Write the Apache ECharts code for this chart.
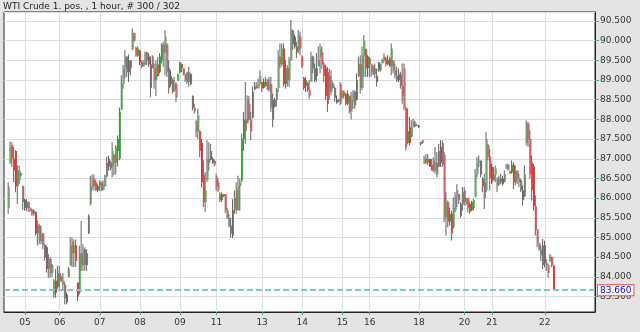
<!DOCTYPE html>
<html><head><meta charset="utf-8">
<script src="https://cdn.jsdelivr.net/npm/echarts@6/dist/echarts.min.js"></script>
<style>html,body{margin:0;padding:0;background:#e4e4e4}#c{width:640px;height:332px}</style>
</head><body><div id="c"></div>
<script>
const titleText = 'WTI Crude 1. pos. , 1 hour, # 300 / 302';
const totalSlots = 324;
const firstSlot = 2;
const dayLabels = ['05','06','07','08','09','11','13','14','15','16','18','20','21','22'];
const daySlots  = [11,30,52,74,96,116,141,163,185,200,227,252,267,296];
const lastPrice = 83.66;
// [open, close, low, high]
const candlesA = [
[85.75,86.3,85.6,86.4],[86.9,87.3,86.87,87.44],[87.35,87.0,86.8,87.42],[87.0,86.7,86.4,87.3],[87.2,86.3,86.15,87.22],
[86.3,86.7,85.85,86.83],[86.45,86.7,86.35,86.83],[86.58,86.62,86.55,86.65],[86.3,85.9,85.7,86.32],[85.95,85.75,85.68,85.98],
[85.75,85.9,85.68,85.98],[85.9,85.75,85.65,85.92],[85.75,85.68,85.65,85.77],[85.7,85.6,85.55,85.72],[85.6,85.68,85.55,85.72],
[85.64,85.1,85.05,85.66],[85.1,85.3,84.79,85.43],[85.3,84.9,84.83,85.35],[84.9,85.1,84.83,85.3],[85.1,84.8,84.7,85.12],
[84.8,84.5,84.41,84.83],[84.75,84.2,84.11,84.79],[84.2,84.45,83.98,84.58],[84.45,84.1,83.98,84.5],[84.1,84.3,84.0,84.33],
[83.55,83.9,83.47,83.94],[83.9,83.6,83.47,84.2],[83.75,84.1,83.7,84.28],[84.1,83.9,83.7,84.28],[84.0,83.9,83.86,84.05],
[83.9,83.8,83.65,84.1],[83.8,83.45,83.3,83.86],[83.55,83.35,83.3,83.6],[84.0,84.2,83.98,84.25],[84.3,84.8,84.28,85.0],
[84.9,84.6,84.25,85.0],[84.6,84.8,84.25,84.95],[84.8,84.4,84.25,84.95],[83.85,83.5,83.39,83.86],[83.6,84.6,83.55,84.79],
[84.6,84.3,84.15,85.42],[84.3,84.7,84.15,84.83],[84.7,84.3,84.15,84.75],[84.3,84.6,84.15,84.7],[85.1,85.55,85.09,85.59],
[85.85,86.3,85.81,86.57],[86.3,86.5,86.2,86.6],[86.5,86.3,86.2,86.6],[86.4,86.2,86.18,86.45],[86.2,86.3,86.15,86.35],
[86.3,86.4,86.18,86.45],[86.4,86.2,86.18,86.42],[86.2,86.35,86.2,86.45],[86.3,86.55,86.3,86.6],[86.55,86.9,86.53,87.04],
[87.0,86.8,86.7,87.08],[86.9,86.75,86.7,86.95],[86.8,87.2,86.53,87.42],[87.1,86.9,86.58,87.12],[86.9,87.3,86.6,87.35],
[87.2,87.5,86.8,87.59],[87.0,88.2,86.96,88.3],[88.25,88.9,88.23,89.12],[88.9,89.3,88.78,89.38],[89.3,89.6,89.04,89.76],
[89.6,89.2,89.08,89.6],[89.2,89.5,88.95,89.65],[89.5,89.3,89.12,89.5],[89.78,90.2,89.76,90.31],[90.2,90.0,89.97,90.2],
[89.82,89.62,89.59,89.85],[89.62,89.8,89.59,89.85],[89.75,89.45,89.38,89.76],[89.45,89.35,89.3,89.5],[89.35,89.45,89.33,89.5],
[89.4,89.7,89.38,89.72],[89.7,89.5,89.38,89.72],[89.6,89.4,89.33,89.68],[89.4,88.8,88.57,89.6]
];
const candlesB = [
[89.6,89.3,89.3,89.63],[89.3,89.0,88.78,89.42],[89.0,89.4,88.59,89.5],[89.4,89.1,89.08,89.59],[89.2,89.6,89.17,89.68],
[89.5,89.9,89.42,89.93],[89.9,89.7,89.34,89.97],[89.7,90.1,89.12,90.27],[89.9,89.2,89.08,89.93],[89.3,88.8,88.66,89.5],
[88.9,89.1,88.83,89.25],[89.0,88.7,88.66,89.04],[88.75,88.9,88.7,89.08],[88.9,88.55,88.44,88.95],[88.98,89.15,88.98,89.17],
[89.2,89.45,89.17,89.46],[89.4,89.3,89.2,89.42],[89.3,89.15,89.12,89.3],[89.15,89.0,88.95,89.17],[89.2,88.95,88.9,89.21],
[88.95,89.2,88.83,89.34],[89.15,88.9,88.87,89.17],[88.6,88.3,88.23,88.61],[88.3,88.2,88.15,88.4],[87.95,87.7,87.55,87.98],
[87.7,88.1,87.5,88.28],[87.7,87.2,87.04,87.72],[87.4,86.4,86.27,87.5],[86.6,85.9,85.77,86.96],[85.9,86.2,85.65,86.66],
[86.45,87.0,86.41,87.47],[87.0,86.9,86.7,87.42],[87.2,86.97,86.96,87.38],[87.0,86.9,86.87,87.04],[86.95,86.85,86.8,86.98],
[86.55,86.3,86.19,86.62],[86.4,86.2,86.15,86.5],[86.1,85.95,85.9,86.15],[85.95,86.1,85.9,86.15],[86.1,86.05,86.03,86.1],
[86.1,85.7,85.62,86.1],[85.7,85.5,85.47,85.75],[85.5,85.3,85.26,85.6],[85.3,85.1,85.0,85.5],[85.05,85.7,84.98,85.97],
[85.7,86.0,85.6,86.19],[86.2,85.7,85.6,86.4],[85.7,86.3,85.68,86.57],[86.3,86.4,85.68,86.5],[86.45,87.5,86.41,87.64],
[87.5,88.0,87.2,88.19],[88.0,87.7,87.38,88.95],[88.5,87.9,87.9,88.61],[88.4,88.0,87.98,88.6],[88.0,87.7,87.47,88.19],
[88.05,88.7,88.02,88.83],[88.76,88.85,88.74,88.95],[88.85,88.8,88.78,88.95],[88.8,88.9,88.78,89.04],[88.9,89.1,88.87,89.25],
[88.95,88.8,88.7,88.95],[88.8,88.95,88.78,89.04],[88.95,88.85,88.83,89.08],[89.0,88.75,88.74,89.04],[88.75,88.9,88.7,89.08],
[88.9,88.3,88.19,89.08],[88.5,88.0,87.8,88.66],[88.33,88.5,88.3,88.55],[88.5,88.76,88.32,88.8],[88.8,89.6,88.7,89.76],
[89.6,89.4,89.29,89.93],[89.4,89.8,89.34,89.93],[89.8,88.9,88.83,89.93],[88.9,89.3,88.78,89.5],[89.3,89.0,88.83,89.38],
[89.0,89.5,88.83,89.59],[89.5,90.3,89.5,90.53],[90.25,89.9,89.76,90.27],[90.1,89.85,89.8,90.15],[89.85,89.7,89.55,89.97]
];
const candlesC = [
[89.75,90.15,89.68,90.27],[90.1,89.8,89.63,90.23],[89.6,89.35,89.3,89.63],[89.05,88.8,88.74,89.08],[88.85,89.0,88.7,89.08],
[88.93,88.75,88.7,88.95],[88.75,88.6,88.53,89.0],[88.97,89.6,88.95,89.72],[89.6,89.3,89.17,89.62],[89.0,89.3,88.95,89.42],
[89.3,89.1,88.95,89.68],[89.35,89.5,89.34,89.85],[89.6,89.8,89.17,89.93],[89.7,89.4,89.29,89.85],[89.4,89.1,88.95,89.46],
[89.3,88.6,88.5,89.38],[89.2,88.4,88.19,89.34],[89.1,88.7,88.5,89.29],[88.7,89.0,88.61,89.25],[88.9,88.8,88.78,88.95],
[88.8,88.55,88.44,88.83],[88.5,88.42,88.4,88.61],[88.45,88.5,88.44,88.53],[88.9,88.4,88.36,88.95],[88.55,88.7,88.53,88.74],
[88.7,88.6,88.53,88.74],[88.65,88.4,88.36,88.66],[88.4,88.65,88.36,88.74],[88.6,88.2,88.15,88.61],[88.2,88.5,88.0,88.7],
[88.45,88.7,88.27,88.74],[88.7,88.35,88.27,88.74],[88.5,89.0,88.48,89.17],[89.1,89.4,89.08,89.59],[89.4,88.8,88.66,89.63],
[88.8,89.6,88.74,89.85],[89.6,90.0,89.08,90.14],[89.78,89.3,89.08,89.8],[89.3,89.6,89.08,89.63],[89.55,89.4,89.08,89.59],
[89.4,89.2,89.08,89.42],[89.35,89.15,89.12,89.38],[89.15,89.3,89.04,89.42],[89.1,88.95,88.83,89.29],[89.45,89.25,89.21,89.46],
[89.25,89.4,89.21,89.42],[89.42,89.5,89.42,89.55],[89.6,89.5,89.46,89.68],[89.55,89.4,89.34,89.59],[89.4,89.5,89.38,89.63],
[89.55,89.35,89.34,89.59],[89.35,89.8,89.12,89.93],[89.5,89.25,89.17,89.5],[89.25,89.1,89.04,89.42],[89.1,89.0,88.95,89.34],
[89.0,89.15,88.95,89.29],[89.15,88.85,88.78,89.21],[88.85,88.6,88.4,89.42],[89.3,88.3,88.23,89.42],[88.3,87.3,87.21,88.32],
[87.4,87.7,87.38,88.27],[87.8,87.4,87.34,88.06],[87.56,87.8,87.55,87.98],[87.95,87.8,87.8,88.02],[87.9,87.82,87.8,87.97],
[87.86,87.84,87.83,87.87],[87.84,87.8,87.78,87.86],[87.42,87.37,87.34,87.43],[87.47,87.4,87.38,87.47],[86.88,87.0,86.87,87.08],
[87.0,86.9,86.87,87.12],[86.9,87.0,86.83,87.12],[87.0,86.8,86.79,87.0],[86.85,86.7,86.7,87.0],[86.95,86.7,86.66,87.04],
[86.7,86.9,86.62,87.3],[86.9,86.6,86.53,87.17],[86.8,87.2,86.79,87.38],[87.3,86.9,86.79,87.47],[87.4,86.85,86.79,87.47]
];
const candlesD = [
[87.1,85.5,85.39,87.17],[85.5,85.9,85.05,86.15],[85.9,85.4,85.26,85.94],[85.4,85.6,85.3,85.75],[85.6,85.1,84.92,85.68],
[85.25,85.75,85.22,86.02],[85.7,86.05,85.64,86.15],[86.05,86.2,85.77,86.36],[86.1,85.95,85.85,86.1],[85.55,85.85,85.51,85.89],
[85.85,86.15,85.68,86.28],[86.2,85.9,85.81,86.28],[85.85,86.0,85.81,86.02],[86.0,85.75,85.64,86.0],[85.85,85.65,85.6,85.89],
[85.7,85.9,85.68,85.93],[85.75,85.95,85.68,85.98],[86.02,86.6,86.02,86.74],[86.6,86.9,86.53,87.04],[86.9,86.95,86.79,87.08],
[86.95,86.6,86.53,86.96],[86.5,86.3,86.15,86.53],[86.4,86.0,85.72,86.62],[86.2,87.5,86.15,87.68],[87.35,87.05,86.96,87.38],
[87.05,86.5,86.19,87.25],[86.8,86.4,86.36,86.87],[86.45,86.6,86.45,86.78],[86.6,86.75,86.4,86.83],[86.5,86.3,86.15,86.53],
[86.33,86.5,86.32,86.57],[86.5,86.4,86.36,86.62],[86.5,86.35,86.32,86.57],[86.42,86.6,86.4,86.7],[86.75,86.85,86.74,86.87],
[86.85,86.72,86.7,86.87],[86.68,86.62,86.62,86.7],[86.65,86.85,86.62,86.96],[86.85,86.4,86.23,86.91],[86.4,86.7,86.32,86.83],
[86.7,86.5,86.36,86.7],[86.5,86.4,86.28,86.62],[86.45,86.2,86.15,86.49],[86.2,85.95,85.81,86.32],[86.05,86.6,86.02,86.83],
[87.4,87.9,87.34,87.98],[87.9,87.5,87.3,87.94],[87.5,86.6,86.49,87.72],[86.9,86.2,85.94,87.08],[86.8,85.8,85.68,86.87],
[85.8,85.2,85.05,86.07],[85.2,84.85,84.75,85.22],[84.85,84.7,84.66,84.87],[84.7,84.55,84.4,84.8],[84.3,84.8,84.2,84.96],
[84.8,84.35,84.24,84.92],[84.35,84.3,84.15,84.45],[84.3,84.1,83.98,84.32],[84.4,84.55,84.37,84.58],[84.5,84.3,84.24,84.5],
[84.28,83.66,83.64,84.3]
];

const candles = candlesA.concat(candlesB, candlesC, candlesD);
const daySet = new Set(daySlots);
const cats = Array.from({length: totalSlots}, (_, i) => {
  const k = daySlots.indexOf(i); return k >= 0 ? dayLabels[k] : '';
});
const seriesData = candles.map((c, i) => [firstSlot + i, c[0], c[1], c[2], c[3]]);

function renderItem(params, api) {
  const i = api.value(0), o = api.value(1), c = api.value(2), l = api.value(3), h = api.value(4);
  const pO = api.coord([i, o]), pC = api.coord([i, c]), pL = api.coord([i, l]), pH = api.coord([i, h]);
  const x = pO[0];
  const up = c >= o;
  const top = Math.min(pO[1], pC[1]);
  const bh = Math.max(1, Math.abs(pO[1] - pC[1]));
  return {type: 'group', children: [
    {type: 'line', shape: {x1: x - 0.4, y1: pH[1], x2: x - 0.4, y2: pL[1]}, style: {stroke: '#626262', lineWidth: 1}},
    {type: 'rect', shape: {x: x, y: top, width: 1.1, height: bh}, style: {fill: up ? '#46a846' : '#e04040'}}
  ]};
}

const chart = echarts.init(document.getElementById('c'), null, {renderer: 'canvas'});
const fam = 'DejaVu Sans';
chart.setOption({
  backgroundColor: '#e4e4e4',
  animation: false,
  title: {text: titleText, left: 3, top: 2, padding: 0,
    textStyle: {fontSize: 9, fontWeight: 'normal', color: '#222', fontFamily: fam}},
  grid: {left: 4, right: 45, top: 12, bottom: 20, show: true, backgroundColor: '#fff', borderColor: '#222', borderWidth: 1},
  xAxis: {
    type: 'category', data: cats, boundaryGap: true,
    axisLine: {show: true, lineStyle: {color: '#222'}},
    axisTick: {show: true, alignWithLabel: true, interval: (i) => daySet.has(i), length: 3, lineStyle: {color: '#3aa0a0'}},
    axisLabel: {interval: (i) => daySet.has(i), fontSize: 9, color: '#333', margin: 6, fontFamily: fam},
    splitLine: {show: true, alignWithLabel: true, interval: (i) => daySet.has(i), lineStyle: {color: '#dedede'}}
  },
  yAxis: {
    type: 'value', position: 'right', min: 83.106, max: 90.729, splitNumber: 15, minInterval: 0.5, maxInterval: 0.5,
    axisLine: {show: true, lineStyle: {color: '#222'}},
    axisTick: {show: true, length: 4, lineStyle: {color: '#3aa0a0'}},
    axisLabel: {showMinLabel: false, showMaxLabel: false, formatter: (v) => v.toFixed(3), fontSize: 9, color: '#333', margin: 5, fontFamily: fam},
    splitLine: {show: true, lineStyle: {color: '#dedede'}}
  },
  series: [
    {type: 'custom', renderItem: renderItem, data: seriesData, encode: {x: 0, y: [1, 2, 3, 4]}, clip: true, silent: true},
    {type: 'line', data: [], silent: true,
      markLine: {symbol: 'none', silent: true, animation: false,
        lineStyle: {type: [6, 3], color: '#78cccc', width: 2},
        label: {position: 'end', formatter: lastPrice.toFixed(3), color: '#0000ff', backgroundColor: '#fff',
          borderColor: '#ff4444', borderWidth: 1, padding: [1, 2, 0, 2], fontSize: 9, fontFamily: fam, distance: 3},
        data: [{yAxis: lastPrice}]}}
  ]
});
</script></body></html>
